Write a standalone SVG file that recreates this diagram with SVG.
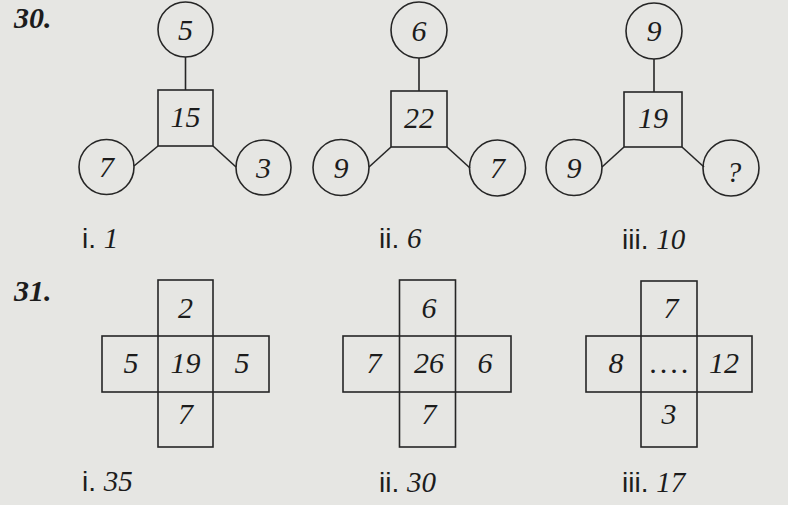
<svg xmlns="http://www.w3.org/2000/svg" width="788" height="505" viewBox="0 0 788 505">
<style>
.bg{fill:#e6e6e3}
.sh{fill:none;stroke:#262626;stroke-width:1.6}
.ln{stroke:#262626;stroke-width:1.6}
.n{font-family:"Liberation Serif","Times New Roman",serif;font-style:italic;font-size:30px;fill:#1c1c1c;text-anchor:middle}
.q{font-family:"Liberation Serif","Times New Roman",serif;font-style:italic;font-size:29px;fill:#1c1c1c;text-anchor:middle}
.d{letter-spacing:3px}
.h{font-family:"Liberation Serif","Times New Roman",serif;font-style:italic;font-weight:bold;font-size:30px;fill:#1c1c1c}
.r{font-family:"Liberation Sans",Arial,sans-serif;font-size:28px;fill:#1c1c1c}
.a{font-family:"Liberation Serif","Times New Roman",serif;font-style:italic;font-size:29px}
</style>
<rect class="bg" x="0" y="0" width="788" height="505"/>

<text class="h" x="14" y="28">30.</text>
<text class="h" x="14" y="301">31.</text>

<g id="connectors">
<line class="ln" x1="185.5" y1="57" x2="185.5" y2="90"/>
<line class="ln" x1="158" y1="146" x2="134" y2="166"/>
<line class="ln" x1="213" y1="146" x2="236" y2="167"/>
<line class="ln" x1="419" y1="58" x2="419" y2="91"/>
<line class="ln" x1="391" y1="147" x2="369" y2="167"/>
<line class="ln" x1="447" y1="147" x2="470" y2="168"/>
<line class="ln" x1="654" y1="59" x2="654" y2="92"/>
<line class="ln" x1="624" y1="147" x2="602" y2="167"/>
<line class="ln" x1="682" y1="147" x2="704" y2="167"/>
</g>

<g id="f30-1">
<g id="f30-1-top"><circle class="sh" cx="185.5" cy="29.5" r="27.5"/><text class="n" x="185.5" y="40">5</text></g>
<g id="f30-1-mid"><rect class="sh" x="158" y="90" width="55" height="56"/><text class="n" x="185.5" y="127">15</text></g>
<g id="f30-1-left"><circle class="sh" cx="106.5" cy="167" r="27.5"/><text class="n" x="106.5" y="177">7</text></g>
<g id="f30-1-right"><circle class="sh" cx="263.5" cy="167.5" r="27.5"/><text class="n" x="263.5" y="178">3</text></g>
<text class="r" x="82" y="248">i. <tspan class="a">1</tspan></text>
</g>

<g id="f30-2">
<g id="f30-2-top"><circle class="sh" cx="419" cy="30" r="28"/><text class="n" x="419" y="41">6</text></g>
<g id="f30-2-mid"><rect class="sh" x="391" y="91" width="56" height="56"/><text class="n" x="419" y="128">22</text></g>
<g id="f30-2-left"><circle class="sh" cx="341" cy="167.5" r="28"/><text class="n" x="341" y="178">9</text></g>
<g id="f30-2-right"><circle class="sh" cx="497.5" cy="168" r="28"/><text class="n" x="497.5" y="178">7</text></g>
<text class="r" x="379" y="248">ii. <tspan class="a">6</tspan></text>
</g>

<g id="f30-3">
<g id="f30-3-top"><circle class="sh" cx="654" cy="31" r="28"/><text class="n" x="654" y="41">9</text></g>
<g id="f30-3-mid"><rect class="sh" x="624" y="92" width="58" height="55"/><text class="n" x="653" y="128">19</text></g>
<g id="f30-3-left"><circle class="sh" cx="574" cy="167.5" r="28"/><text class="n" x="574" y="178">9</text></g>
<g id="f30-3-right"><circle class="sh" cx="731" cy="168" r="28"/><text class="q" x="734" y="182">?</text></g>
<text class="r" x="622" y="249">iii. <tspan class="a">10</tspan></text>
</g>

<g id="f31-1">
<rect class="sh" x="158" y="280" width="55" height="167"/>
<rect class="sh" x="102" y="336" width="167" height="56"/>
<text class="n" x="185.5" y="318">2</text>
<text class="n" x="131" y="373">5</text>
<text class="n" x="185.5" y="373">19</text>
<text class="n" x="242" y="373">5</text>
<text class="n" x="185.5" y="424">7</text>
<text class="r" x="82" y="491">i. <tspan class="a">35</tspan></text>
</g>

<g id="f31-2">
<rect class="sh" x="399.5" y="280" width="56" height="167"/>
<rect class="sh" x="343" y="336" width="168" height="56"/>
<text class="n" x="429" y="318">6</text>
<text class="n" x="374" y="373">7</text>
<text class="n" x="429" y="373">26</text>
<text class="n" x="485" y="373">6</text>
<text class="n" x="429" y="424">7</text>
<text class="r" x="379" y="492">ii. <tspan class="a">30</tspan></text>
</g>

<g id="f31-3">
<rect class="sh" x="641" y="281" width="56" height="166"/>
<rect class="sh" x="586" y="336" width="166" height="56"/>
<text class="n" x="671" y="318">7</text>
<text class="n" x="616" y="373">8</text>
<text class="n d" x="671" y="373">....</text>
<text class="n" x="724" y="373">12</text>
<text class="n" x="669" y="424">3</text>
<text class="r" x="622" y="492">iii. <tspan class="a">17</tspan></text>
</g>
</svg>
